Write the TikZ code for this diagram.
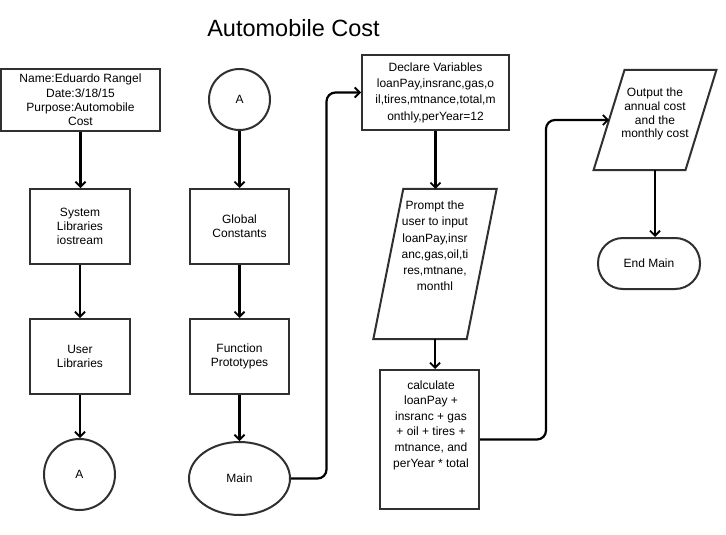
\documentclass[tikz,border=0pt]{standalone}
\usepackage{fontspec}
\setmainfont{Liberation Sans}
\usetikzlibrary{arrows.meta,shapes.geometric}
\definecolor{edge}{HTML}{303030}
\begin{document}
\begin{tikzpicture}[x=1pt,y=-1pt,
  shp/.style={draw=edge, line width=2pt, inner sep=0pt, align=center,
    font=\fontsize{12}{14.3}\selectfont},
  boxshape/.style={shp, rectangle, minimum width=#1},
  plain/.style={inner sep=0pt, align=center, font=\fontsize{12}{14.3}\selectfont},
  conn/.style={line width=2.2pt, rounded corners=9pt,
    -{Straight Barb[length=5pt,width=10pt,line width=1.8pt]}}
]
\useasboundingbox[fill=white] (0,0) rectangle (726,535);

\node[plain, font=\fontsize{23.5}{27}\selectfont] (title) at (293.5,28) {Automobile Cost};

% column 1
\node[boxshape=159pt, minimum height=61pt] (name) at (80.5,100)
  {Name:Eduardo Rangel\\Date:3/18/15\\Purpose:Automobile\\Cost};
\node[boxshape=100pt, minimum height=75pt] (sys) at (80,226.5)
  {System\\Libraries\\iostream};
\node[boxshape=100pt, minimum height=75pt] (user) at (80,356.5)
  {User\\Libraries};
\node[shp, circle, minimum size=71pt] (a1) at (79.5,474.5) {A};

% column 2
\node[shp, circle, minimum size=61pt] (a2) at (239.5,99.5) {A};
\node[boxshape=99pt, minimum height=75pt] (glob) at (239.5,226.5)
  {Global\\Constants};
\node[boxshape=99pt, minimum height=75pt] (func) at (239.5,356.5)
  {Function\\Prototypes};
\node[shp, ellipse, minimum width=101pt, minimum height=73pt] (main) at (239.5,478.5) {Main};

% column 3
\node[boxshape=147pt, minimum height=75pt, font=\fontsize{12}{16.3}\selectfont] (decl) at (435.5,92.5)
  {Declare Variables\\loanPay,insranc,gas,o\\il,tires,mtnance,total,m\\onthly,perYear=12};
\node[rectangle, inner sep=0pt, minimum width=93pt, minimum height=150pt] (prompt) at (435,264) {};
\draw[shp] ([xshift=15pt]prompt.north west) -- ([xshift=15pt]prompt.north east)
  -- ([xshift=-15pt]prompt.south east) -- ([xshift=-15pt]prompt.south west) -- cycle;
\node[plain, font=\fontsize{12}{16.2}\selectfont] (prompttxt) at (435,246)
  {Prompt the\\user to input\\loanPay,insr\\anc,gas,oil,ti\\res,mtnane,\\monthl};
\node[boxshape=99pt, minimum height=139pt] (calc) at (429.5,439.5) {};
\node[plain, font=\fontsize{12}{15.6}\selectfont] (calctxt) at (431,425)
  {calculate\\loanPay +\\insranc + gas\\+ oil + tires +\\mtnance, and\\perYear * total};

% column 4
\node[rectangle, inner sep=0pt, minimum width=91.5pt, minimum height=100pt] (out) at (655,120) {};
\draw[shp] ([xshift=15.5pt]out.north west) -- ([xshift=15.5pt]out.north east)
  -- ([xshift=-15.5pt]out.south east) -- ([xshift=-15.5pt]out.south west) -- cycle;
\node[plain, font=\fontsize{12}{13.8}\selectfont] (outtxt) at (655,114)
  {Output the\\annual cost\\and the\\monthly cost};
\node[shp, rectangle, rounded corners=25pt, minimum width=102pt, minimum height=51pt] (endm) at (649,263.5) {End Main};

% connectors
\draw[conn] (name.south) -- (name.south |- sys.north);
\draw[conn] (sys.south) -- (sys.south |- user.north);
\draw[conn] (user.south) -- (user.south |- a1.north);
\draw[conn] (a2.south) -- (a2.south |- glob.north);
\draw[conn] (glob.south) -- (glob.south |- func.north);
\draw[conn] (func.south) -- (func.south |- main.north);
\draw[conn] (main.east) -- ++(35.5,0) |- (decl.west);
\draw[conn] (decl.south) -- (decl.south |- prompt.north);
\draw[conn] (prompt.south) -- (prompt.south |- calc.north);
\draw[conn] (calc.east) -- ++(66,0) |- (out.west);
\draw[conn] (out.south) -- (out.south |- endm.north);
\end{tikzpicture}
\end{document}
